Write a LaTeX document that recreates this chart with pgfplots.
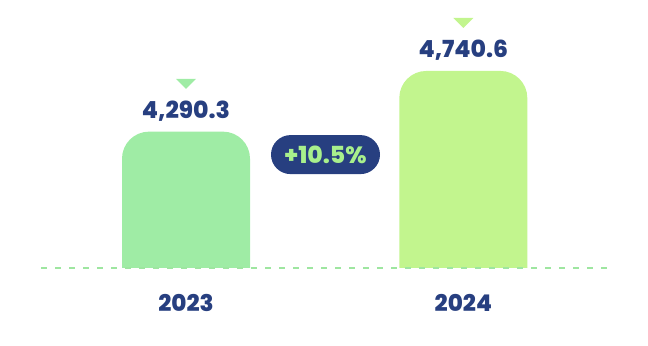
\documentclass[border=0pt]{standalone}
\usepackage{pgfplots}
\pgfplotsset{compat=1.18}
\usepackage{fontspec}
\setmainfont{Poppins}
\newfontfamily\heavy{Poppins ExtraBold}
\definecolor{barA}{HTML}{9FECA5}
\definecolor{barB}{HTML}{C2F58E}
\definecolor{navy}{HTML}{273F80}
\definecolor{pilltext}{HTML}{A8F08C}
\definecolor{dashgreen}{HTML}{9EE6A0}
\begin{document}
\begin{tikzpicture}
\begin{axis}[
  at={(0bp,0bp)}, anchor=south west,
  width=648bp, height=346bp, scale only axis,
  xmin=0, xmax=648, ymin=2700, ymax=5267,
  hide axis, clip mode=individual,
]
\addplot[ybar, bar width=128, bar shift=0pt, fill=barA, draw=none, rounded corners=27bp] coordinates {(186,4290.3)};
\addplot[ybar, bar width=128, bar shift=0pt, fill=barB, draw=none, rounded corners=27bp] coordinates {(463.3,4740.6)};
\fill[white] (axis cs:100,2700) rectangle (axis cs:560,3279);
\draw[draw=dashgreen, line width=1.4bp, dash pattern=on 6bp off 8bp] (axis cs:41,3279) -- (axis cs:612,3279);
% value labels
\node[anchor=base, font=\heavy\fontsize{23.5bp}{25bp}\selectfont, text=navy, inner sep=0pt] at ([yshift=13.4bp]axis cs:186,4290.3) {4,290.3};
\node[anchor=base, font=\heavy\fontsize{23.5bp}{25bp}\selectfont, text=navy, inner sep=0pt] at ([yshift=13.4bp]axis cs:463.3,4740.6) {4,740.6};
% triangles
\fill[barA] ([yshift=42.7bp]axis cs:186,4290.3) -- ++(-10bp,10bp) -- ++(20bp,0bp) -- cycle;
\fill[barB] ([yshift=43bp]axis cs:463.3,4740.6) -- ++(-10bp,10bp) -- ++(20bp,0bp) -- cycle;
% year labels
\node[anchor=base, font=\heavy\fontsize{23bp}{25bp}\selectfont, text=navy, inner sep=0pt] at ([yshift=-43.7bp]axis cs:186,3279) {2023};
\node[anchor=base, font=\heavy\fontsize{23bp}{25bp}\selectfont, text=navy, inner sep=0pt] at ([yshift=-43.7bp]axis cs:463.3,3279) {2024};
% pill
\node[fill=navy, rounded corners=19.5bp, minimum width=109bp, minimum height=39bp, inner sep=0pt, text=pilltext, font=\heavy\fontsize{23.5bp}{25bp}\selectfont] at (axis cs:325.5,4120) {+10.5\%};
\end{axis}
\pgfresetboundingbox
\useasboundingbox (0,0) rectangle (648bp,346bp);
\end{tikzpicture}
\end{document}
